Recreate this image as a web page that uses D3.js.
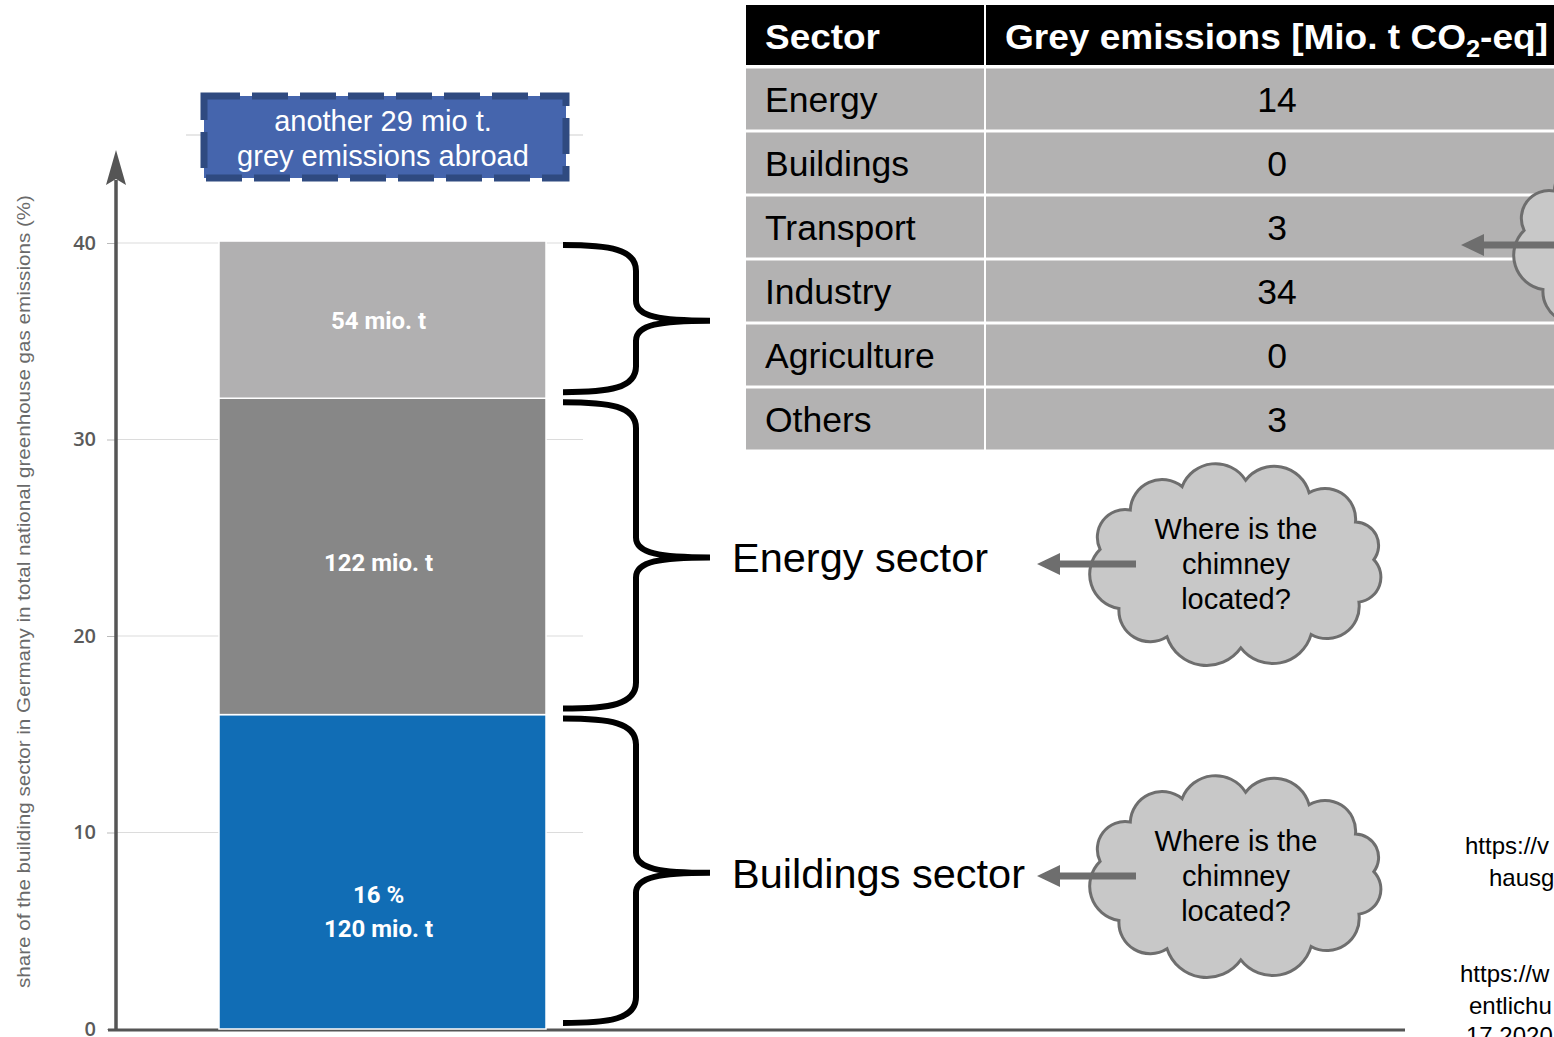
<!DOCTYPE html>
<html>
<head>
<meta charset="utf-8">
<script src="https://cdn.jsdelivr.net/npm/d3@7"></script>
<style>
  body { margin: 0; background: #fff; }
  svg { display: block; overflow: hidden; }
  text { font-family: "Liberation Sans", Arial, sans-serif; }
</style>
</head>
<body>
<script>
// stacked bar: share of national GHG emissions (%)
const segments = ["Buildings sector", "Energy sector", "Grey emissions"];
const segShares = [16, 16.1, 8];
const segLabels = [["16 %", "120 mio. t"], ["122 mio. t"], ["54 mio. t"]];
const yTicks = [0, 10, 20, 30, 40];
const yTitle = "share of the building sector in Germany in total national greenhouse gas emissions (%)";

// grey emissions table
const sectors = ["Energy", "Buildings", "Transport", "Industry", "Agriculture", "Others"];
const greyEmissions = [14, 0, 3, 34, 0, 3];

const W = 1554, H = 1037;

const svg = d3.select("body")
              .append("svg")
              .attr("width", W)
              .attr("height", H);

const y = d3.scaleLinear().domain([0, 40]).range([1029, 243]);
const x = d3.scaleBand().domain(["Germany"]).range([219, 546]).padding(0);
const color = d3.scaleOrdinal().domain(segments).range(["#116db5", "#878787", "#b1b0b1"]);

// gridlines
svg.append("g")
   .selectAll("line")
   .data(yTicks.filter(d => d > 0))
   .enter()
   .append("line")
   .attr("x1", 116).attr("x2", 583)
   .attr("y1", d => y(d)).attr("y2", d => y(d))
   .attr("stroke", "#dcdcdc").attr("stroke-width", 1.2);

svg.append("line")
   .attr("x1", 186).attr("x2", 583)
   .attr("y1", 135).attr("y2", 135)
   .attr("stroke", "#cfcfcf").attr("stroke-width", 1.2);

// y axis ticks
const yAxis = svg.append("g")
   .attr("transform", "translate(116,0)")
   .call(d3.axisLeft(y).tickValues(yTicks).tickSize(9).tickPadding(11));
yAxis.select(".domain").remove();
yAxis.selectAll(".tick line").attr("stroke", "#bbb");
yAxis.selectAll(".tick text")
     .attr("fill", "#5a5a5a")
     .style("font-family", "'Open Sans', sans-serif")
     .style("font-weight", 600)
     .style("font-size", "20px");

// axis lines with arrow
svg.append("line")
   .attr("x1", 116).attr("x2", 116)
   .attr("y1", y(0) + 1).attr("y2", 180)
   .attr("stroke", "#555").attr("stroke-width", 3.5);
svg.append("path")
   .attr("d", "M116,150 L106,185 L116,179 L126,185 Z")
   .attr("fill", "#555");
svg.append("line")
   .attr("x1", 108).attr("x2", 1405)
   .attr("y1", y(0) + 1).attr("y2", y(0) + 1)
   .attr("stroke", "#555").attr("stroke-width", 3);

svg.append("text")
   .attr("transform", `translate(30,${(195 + 988) / 2}) rotate(-90)`)
   .attr("text-anchor", "middle")
   .attr("textLength", 793)
   .attr("lengthAdjust", "spacingAndGlyphs")
   .attr("fill", "#6a6a6a")
   .style("font-size", "18px")
   .text(yTitle);

// stacked bar
const row = { name: "Germany" };
segments.forEach((s, i) => row[s] = segShares[i]);
const stacked = d3.stack().keys(segments)([row]);

svg.append("g")
   .selectAll("rect")
   .data(stacked)
   .enter()
   .append("rect")
   .attr("x", x("Germany"))
   .attr("width", x.bandwidth())
   .attr("y", d => y(d[0][1]))
   .attr("height", d => y(d[0][0]) - y(d[0][1]))
   .attr("fill", d => color(d.key))
   .attr("stroke", "#fff")
   .attr("stroke-width", 1.5);

const labelShift = [40, 7, 1];
const labels = svg.append("g")
   .selectAll("text")
   .data(stacked)
   .enter()
   .append("text")
   .attr("text-anchor", "middle")
   .attr("fill", "#fff")
   .style("font-family", "'Liberation Sans Narrow', Roboto, sans-serif")
   .style("font-weight", "bold")
   .style("font-size", "24px")
   .attr("transform", (d, i) => {
     const mid = (y(d[0][0]) + y(d[0][1])) / 2 + labelShift[i];
     const n = segLabels[i].length;
     return `translate(${x("Germany") + x.bandwidth() / 2 - 4},${mid - (n - 1) * 17 + 8})`;
   });
labels.selectAll("tspan")
      .data((d, i) => segLabels[i])
      .enter()
      .append("tspan")
      .attr("x", 0)
      .attr("dy", (d, j) => j === 0 ? 0 : 34)
      .text(d => d);

// braces
function brace(y0, y1) {
  const m = (y0 + y1) / 2 + 2;
  return `M563,${y0} C610,${y0} 636,${y0 + 4} 636,${y0 + 26} L636,${m - 20}` +
         ` C636,${m - 4} 660,${m} 710,${m}` +
         ` M710,${m} C660,${m} 636,${m + 4} 636,${m + 20}` +
         ` L636,${y1 - 26} C636,${y1 - 4} 610,${y1} 563,${y1}`;
}
svg.append("g")
   .selectAll("path")
   .data(stacked)
   .enter()
   .append("path")
   .attr("d", d => brace(y(d[0][1]) + 4, y(d[0][0]) - 6))
   .attr("fill", "none")
   .attr("stroke", "#000")
   .attr("stroke-width", 6);

svg.append("g")
   .selectAll("text")
   .data(stacked.filter(d => d.key !== "Grey emissions"))
   .enter()
   .append("text")
   .attr("x", 732)
   .attr("y", d => (y(d[0][0]) + y(d[0][1])) / 2 + 16)
   .style("font-size", "41.5px")
   .attr("fill", "#000")
   .text(d => d.key);

// "another 29 mio t." box
svg.append("rect")
   .attr("x", 204).attr("y", 96)
   .attr("width", 362).attr("height", 82)
   .attr("fill", "#4565ad")
   .attr("stroke", "#2f4a80")
   .attr("stroke-width", 7)
   .attr("stroke-dasharray", "36 12");
svg.append("text")
   .attr("x", 383).attr("y", 131)
   .attr("text-anchor", "middle")
   .attr("fill", "#fff")
   .style("font-size", "29px")
   .text("another 29 mio t.");
svg.append("text")
   .attr("x", 383).attr("y", 166)
   .attr("text-anchor", "middle")
   .attr("fill", "#fff")
   .style("font-size", "29px")
   .text("grey emissions abroad");

// table
const rowY = d3.scaleBand().domain(["header", ...sectors]).range([3, 3 + 64 * 7]);
const cols = [[746, 984], [986, 1600]];
const table = svg.append("g");

table.selectAll("rect.h")
     .data(cols)
     .enter()
     .append("rect")
     .attr("x", d => d[0]).attr("width", d => d[1] - d[0])
     .attr("y", rowY("header") + 2).attr("height", rowY.bandwidth() - 4)
     .attr("fill", "#000");

const trow = table.selectAll("g.row")
     .data(sectors)
     .enter()
     .append("g")
     .attr("transform", d => `translate(0,${rowY(d)})`);
trow.selectAll("rect")
    .data(cols)
    .enter()
    .append("rect")
    .attr("x", d => d[0]).attr("width", d => d[1] - d[0])
    .attr("y", 1.5).attr("height", rowY.bandwidth() - 3)
    .attr("fill", "#b3b2b2");
trow.append("text")
    .attr("x", 765)
    .attr("y", rowY.bandwidth() / 2 + 13)
    .style("font-size", "35.5px")
    .text(d => d);
trow.append("text")
    .attr("x", 1277)
    .attr("y", rowY.bandwidth() / 2 + 13)
    .attr("text-anchor", "middle")
    .style("font-size", "35.5px")
    .text((d, i) => greyEmissions[i]);

table.append("text")
     .attr("x", 765).attr("y", rowY("header") + 46)
     .attr("fill", "#fff")
     .style("font-size", "35px").style("font-weight", "bold")
     .attr("textLength", 115)
     .attr("lengthAdjust", "spacingAndGlyphs")
     .text("Sector");
const hdr = table.append("text")
     .attr("x", 1005).attr("y", rowY("header") + 46)
     .attr("fill", "#fff")
     .style("font-size", "35px").style("font-weight", "bold")
     .attr("textLength", 543)
     .attr("lengthAdjust", "spacingAndGlyphs");
hdr.append("tspan").text("Grey emissions [Mio. t CO");
hdr.append("tspan").attr("dy", 8).style("font-size", "24px").text("2");
hdr.append("tspan").attr("dy", -8).text("-eq]");

// clouds with arrows
function cloudPath(cx, cy, rx, ry) {
  const angs = [-170, -140, -113, -86, -58, -30, -3, 27, 57, 88, 120, 148];
  const pts = angs.map(a => {
    const t = a * Math.PI / 180;
    return [cx + rx * Math.cos(t), cy + ry * Math.sin(t)];
  });
  let p = `M${pts[0][0]},${pts[0][1]}`;
  pts.forEach((pt, i) => {
    const nx = pts[(i + 1) % pts.length];
    const c = Math.hypot(nx[0] - pt[0], nx[1] - pt[1]);
    const r = c * 0.56;
    p += ` A${r},${r} 0 0 1 ${nx[0]},${nx[1]}`;
  });
  return p + "Z";
}

function cloud(cx, cy, lines) {
  const g = svg.append("g");
  g.append("path")
   .attr("d", cloudPath(cx, cy, 138, 84))
   .attr("fill", "#c8c8c8")
   .attr("stroke", "#6e6e6e")
   .attr("stroke-width", 3);
  g.append("path")
   .attr("d", `M${cx - 100},${cy - 3.5} L${cx - 176},${cy - 3.5} L${cx - 176},${cy - 11} L${cx - 199},${cy} L${cx - 176},${cy + 11} L${cx - 176},${cy + 3.5} L${cx - 100},${cy + 3.5} Z`)
   .attr("fill", "#6e6e6e");
  g.selectAll("text")
   .data(lines)
   .enter()
   .append("text")
   .attr("x", cx)
   .attr("y", (d, i) => cy - 25 + i * 35)
   .attr("text-anchor", "middle")
   .style("font-size", "29px")
   .text(d => d);
}
cloud(1660, 245, []);
cloud(1236, 564, ["Where is the", "chimney", "located?"]);
cloud(1236, 876, ["Where is the", "chimney", "located?"]);

// clipped source notes
const notes = [["https://v", 1465, 854], ["hausg", 1489, 886], ["https://w", 1460, 982], ["entlichu", 1469, 1014], ["17.2020", 1466, 1044]];
svg.append("g")
   .selectAll("text")
   .data(notes)
   .enter()
   .append("text")
   .attr("x", d => d[1]).attr("y", d => d[2])
   .style("font-size", "24px")
   .text(d => d[0]);
</script>
</body>
</html>
